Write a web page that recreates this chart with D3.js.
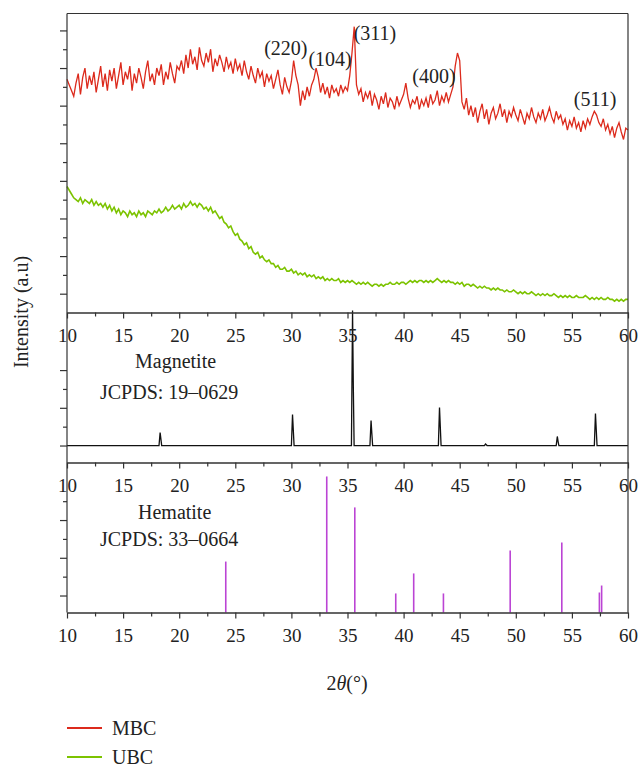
<!DOCTYPE html>
<html lang="en">
<head>
<meta charset="UTF-8">
<title>XRD patterns MBC / UBC</title>
<script src="https://d3js.org/d3.v7.min.js"></script>
<style>
  body { margin: 0; background: #fff; }
  svg text { font-family: "Liberation Serif", "DejaVu Serif", serif; fill: #222; }
  .tick text { font-size: 19px; }
  .axis path, .axis line { stroke: #333; stroke-width: 1.2; }
</style>
</head>
<body>
<svg width="639" height="767"></svg>
<script>
// scans: 2theta from 10 to 60 deg, one value every 0.2 deg
const start = 10, step = 0.2;

const mbc = [
  124,121,118,115,122,127,116,125,130,119,
  126,121,128,117,124,131,120,127,118,129,
  123,130,119,126,133,121,128,124,131,118,
  127,122,130,125,119,128,134,123,127,121,
  130,126,132,121,128,124,133,127,122,131,
  129,134,127,137,130,140,132,136,129,141,
  134,131,138,133,140,128,135,131,137,133,
  128,136,130,133,127,135,129,132,126,134,
  128,124,131,126,122,130,125,128,120,127,
  123,126,119,124,129,121,116,125,120,117,
  123,134,126,121,110,118,113,120,115,121,
  124,130,125,117,122,116,120,114,121,117,
  119,115,121,117,120,118,126,138,152,121,
  116,119,112,117,114,118,110,116,113,108,
  115,111,117,109,114,112,108,115,110,113,
  116,122,114,109,113,111,115,108,113,110,
  114,109,116,111,113,118,110,115,112,117,
  112,116,120,131,138,134,112,108,114,105,
  110,104,109,101,107,111,103,108,100,106,
  109,103,106,111,104,108,101,107,104,109,
  105,102,108,104,100,106,103,109,104,101,
  106,103,108,102,105,109,104,101,107,103,
  105,100,103,97,102,99,104,98,101,96,
  102,98,103,100,104,107,105,101,99,103,
  97,100,95,99,93,98,101,96,92,98,
  97
];

const ubc = [
  67,65,63,61,60,59,61,58,60,59,
  58,60,57,59,57,58,56,58,55,57,
  54,56,53,55,52,54,53,51,54,52,
  53,51,54,52,53,51,54,53,52,54,
  53,55,53,54,56,54,55,57,55,56,
  57,55,58,56,57,59,57,58,56,58,
  57,55,56,54,56,53,54,52,50,51,
  48,47,45,46,43,41,42,39,38,36,
  37,34,35,32,31,32,29,30,28,27,
  28,26,26,24,25,23,23,24,22,22,
  23,21,22,20,21,20,21,19,20,19,
  20,18,19,18,19,17,18,17,18,17,
  17,18,16,17,16,17,16,17,16,15,
  16,15,16,15,16,15,14,15,15,14,
  15,14,15,15,16,15,15,16,15,16,
  16,15,16,17,16,17,16,17,17,16,
  17,16,17,16,17,18,17,16,17,16,
  17,16,16,15,16,15,16,14,15,15,
  14,15,14,13,14,13,14,13,13,12,
  13,12,13,12,12,11,12,11,11,12,
  11,10,11,10,11,10,10,11,10,9,
  10,9,10,9,10,9,9,10,9,8,
  9,8,9,8,9,8,8,9,8,8,
  8,9,8,7,8,7,8,7,8,7,
  7,8,7,7,6,7,6,7,6,7,
  7
];

// magnetite reference pattern (JCPDS 19-0629)
const magPos = [18.3, 30.1, 35.45, 37.1, 43.2, 47.3, 53.7, 57.1];
const magInt = [69, 164, 716, 133, 201, 8, 48, 170];
const magShoulder = [0, 0, 308, 64, 101, 0, 21, 85];

// hematite reference pattern (JCPDS 33-0664)
const hemPos = [24.15, 33.15, 35.65, 39.3, 40.9, 43.55, 49.5, 54.1, 57.45, 57.65];
const hemInt = [180, 631, 467, 11, 117, 11, 239, 281, 16, 53];

const xTicks = [10, 15, 20, 25, 30, 35, 40, 45, 50, 55, 60];
const hkl = ["(220)", "(104)", "(311)", "(400)", "(511)"];
const seriesNames = ["MBC", "UBC"];
const colors = ["#dc2a1c", "#7cc300"];

const svg = d3.select("svg");
const left = 67, right = 628;

const x = d3.scaleLinear().domain([10, 60]).range([left, right]);
const yTop = d3.scaleLinear().domain([0, 159]).range([312.5, 13.5]);
const yMid = d3.scaleLinear().domain([-90, 700]).range([462.5, 313.5]);
const yBot = d3.scaleLinear().domain([-90, 705]).range([612.5, 462.5]);

// scans
const line = d3.line()
  .x((d, i) => x(start + i * step))
  .y(d => yTop(d));

svg.append("path").datum(ubc)
  .attr("d", line).attr("fill", "none")
  .attr("stroke", colors[1]).attr("stroke-width", 1.6);

svg.append("path").datum(mbc)
  .attr("d", line).attr("fill", "none")
  .attr("stroke", colors[0]).attr("stroke-width", 1.3);

// magnetite profile, narrow peaks on a flat baseline
const magPts = [[10, 0]];
magPos.forEach((p, i) => {
  magPts.push([p - 0.1, 0], [p, magInt[i]]);
  if (magShoulder[i]) magPts.push([p + 0.07, magShoulder[i]]);
  magPts.push([p + 0.14, 0]);
});
magPts.push([60, 0]);

svg.append("path").datum(magPts)
  .attr("d", d3.line().x(d => x(d[0])).y(d => yMid(d[1])))
  .attr("fill", "none").attr("stroke", "#111").attr("stroke-width", 1.3);

// hematite sticks
svg.selectAll(".stick").data(hemPos).join("line")
  .attr("class", "stick")
  .attr("x1", d => x(d)).attr("x2", d => x(d))
  .attr("y1", yBot.range()[0])
  .attr("y2", (d, i) => yBot(hemInt[i]))
  .attr("stroke", "#bb44d4").attr("stroke-width", 1.6);

// x axes under each panel
const minorX = d3.range(12.5, 60, 5);
[[yTop, 312.5], [yMid, 462.5], [yBot, 612.5]].forEach(([s, y0]) => {
  svg.append("g").attr("class", "axis")
    .attr("transform", `translate(0,${y0})`)
    .call(d3.axisBottom(x).tickValues(minorX).tickSize(4).tickSizeOuter(0).tickFormat(""));
  svg.append("g").attr("class", "axis")
    .attr("transform", `translate(0,${y0})`)
    .call(d3.axisBottom(x).tickValues(xTicks).tickSize(6).tickSizeOuter(0).tickPadding(10).tickFormat(d3.format("d")));
});

// left ticks, no labels
function leftTicks(s, major, minor) {
  svg.append("g").attr("class", "axis")
    .attr("transform", `translate(${left},0)`)
    .call(d3.axisLeft(s).tickValues(major).tickSize(7).tickFormat(""))
    .call(g => g.select(".domain").remove());
  svg.append("g").attr("class", "axis")
    .attr("transform", `translate(${left},0)`)
    .call(d3.axisLeft(s).tickValues(minor).tickSize(4).tickFormat(""))
    .call(g => g.select(".domain").remove());
}
leftTicks(yTop, d3.range(10, 160, 20), d3.range(20, 160, 20));
leftTicks(yMid, [0, 200, 400], [100, 300]);
leftTicks(yBot, [0, 200, 400], [100, 300, 500]);

// frame lines
const frame = svg.append("g").attr("stroke", "#333").attr("stroke-width", 1.2);
frame.append("line").attr("x1", left).attr("x2", left).attr("y1", 13.5).attr("y2", 612.5);
frame.append("line").attr("x1", right).attr("x2", right).attr("y1", 13.5).attr("y2", 612.5);
frame.append("line").attr("x1", left).attr("x2", right).attr("y1", 13.5).attr("y2", 13.5);

// peak labels
const hklAt = [[29.5, 137], [33.45, 131], [37.45, 145], [42.7, 122], [57.06, 110]];
svg.selectAll(".hkl").data(hkl).join("text")
  .attr("class", "hkl")
  .attr("x", (d, i) => x(hklAt[i][0]))
  .attr("y", (d, i) => yTop(hklAt[i][1]))
  .attr("text-anchor", "middle")
  .attr("font-size", 20)
  .text(d => d);

// reference card names
const card = [
  ["Magnetite", 135, 368], ["JCPDS: 19\u20130629", 100, 399],
  ["Hematite", 138, 519], ["JCPDS: 33\u20130664", 100, 546]
];
svg.selectAll(".card").data(card).join("text")
  .attr("class", "card")
  .attr("x", d => d[0] ? d[1] : 0).attr("y", d => d[2])
  .attr("font-size", 20)
  .text(d => d[0]);

// axis titles
svg.append("text")
  .attr("x", 347).attr("y", 690)
  .attr("text-anchor", "middle").attr("font-size", 20)
  .html('2<tspan font-style="italic">\u03b8</tspan>(\u00b0)');

svg.append("text")
  .attr("transform", "translate(28,312) rotate(-90)")
  .attr("text-anchor", "middle").attr("font-size", 20)
  .text("Intensity (a.u)");

// legend
const leg = svg.selectAll(".leg").data(seriesNames).join("g")
  .attr("class", "leg")
  .attr("transform", (d, i) => `translate(67,${728 + i * 29})`);
leg.append("line").attr("x1", 0).attr("x2", 35)
  .attr("stroke", (d, i) => colors[i]).attr("stroke-width", 2);
leg.append("text").attr("x", 45).attr("y", 7)
  .attr("font-size", 20).text(d => d);
</script>
</body>
</html>
